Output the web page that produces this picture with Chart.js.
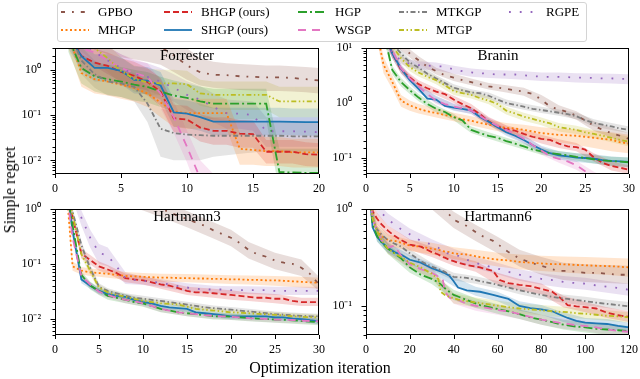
<!DOCTYPE html>
<html><head><meta charset="utf-8">
<script src="https://cdn.jsdelivr.net/npm/chart.js@4.4.0/dist/chart.umd.min.js"></script>
<style>
body{margin:0;width:640px;height:379px;overflow:hidden;background:#fff;font-family:'Liberation Serif','Times New Roman',serif;position:relative;color:#000}
canvas.p{position:absolute}
.t{position:absolute;font-size:15px;transform:translate(-50%,-50%);white-space:nowrap;z-index:3}
.lab{position:absolute;font-size:16px;white-space:nowrap;transform:translate(-50%,-50%)}
#legend{position:absolute;left:57px;top:2px;width:528px;height:38px;border:1px solid #d4d4d4;border-radius:3px;background:rgba(255,255,255,0.85);z-index:5}
.li{position:absolute;font-size:13px;white-space:nowrap;transform:translateY(-50%)}
.ls{position:absolute}
</style></head><body>
<canvas class="p" id="c1" width="325" height="165" style="left:5px;top:35px"></canvas>
<canvas class="p" id="c2" width="324" height="165" style="left:316px;top:35px"></canvas>
<canvas class="p" id="c3" width="325" height="165" style="left:5px;top:196px"></canvas>
<canvas class="p" id="c4" width="324" height="165" style="left:316px;top:196px"></canvas>
<div class="t" style="left:187px;top:55px">Forrester</div>
<div class="t" style="left:498px;top:55px">Branin</div>
<div class="t" style="left:187px;top:216px">Hartmann3</div>
<div class="t" style="left:498px;top:216px">Hartmann6</div>
<div class="lab" style="left:10px;top:190px;transform:translate(-50%,-50%) rotate(-90deg)">Simple regret</div>
<div class="lab" style="left:320px;top:368px">Optimization iteration</div>
<div id="legend"></div>
<script>
// ---------------- series meta ----------------
const seriesNames = ['GPBO','MHGP','BHGP (ours)','SHGP (ours)','HGP','WSGP','MTKGP','MTGP','RGPE'];
const seriesColors = ['#8c564b','#ff7f0e','#d62728','#1f77b4','#2ca02c','#e377c2','#7f7f7f','#bcbd22','#9467bd'];
const seriesDash = [[4,7,1.8,7],[2,2.5],[6,3],[],[9,3,2,3],[8,6],[5,2.5,1.5,2.5],[5,2.5,1.5,2.5,1.5,2.5],[1.8,9]];

// ---------------- Forrester ----------------
const forX = [1,2,3,4,5,6,7,8,9,10,11,12,13,14,15,16,17,18,19,20];
const forGPBO = [10,8,6,5,4.5,4,3.5,3.2,2.1,1.25,0.88,0.78,0.76,0.72,0.7,0.68,0.68,0.66,0.62,0.58];
const forGPBOlo = [4,3.5,2.8,2.2,1.9,1.7,1.5,1.3,0.9,0.6,0.45,0.4,0.38,0.36,0.35,0.34,0.34,0.33,0.32,0.3];
const forGPBOhi = [20,16,12,10,9,8,7,6,4.5,3,1.8,1.5,1.4,1.35,1.3,1.25,1.25,1.2,1.15,1.1];
const forMHGP = [6,0.85,0.62,0.55,0.47,0.4,0.3,0.19,0.12,0.11,0.11,0.11,0.11,0.018,0.017,0.016,0.016,0.015,0.015,0.015];
const forMHGPlo = [3,0.42,0.3,0.27,0.23,0.2,0.15,0.09,0.055,0.05,0.05,0.05,0.05,0.008,0.008,0.0075,0.0075,0.007,0.007,0.007];
const forMHGPhi = [12,1.7,1.25,1.1,0.95,0.8,0.6,0.4,0.25,0.23,0.23,0.23,0.23,0.04,0.036,0.033,0.033,0.03,0.03,0.03];
const forBHGP = [8,2.0,1.45,1.22,0.9,0.74,0.54,0.33,0.085,0.08,0.053,0.045,0.045,0.039,0.038,0.0155,0.0155,0.0155,0.0137,0.0133];
const forBHGPlo = [4,1.0,0.72,0.6,0.45,0.37,0.27,0.16,0.042,0.04,0.026,0.022,0.022,0.019,0.019,0.0085,0.0085,0.0085,0.0075,0.0072];
const forBHGPhi = [16,4,2.9,2.4,1.8,1.5,1.1,0.66,0.17,0.16,0.105,0.09,0.09,0.078,0.076,0.028,0.028,0.028,0.025,0.024];
const forSHGP = [6,2.0,1.1,1.1,0.95,0.6,0.58,0.45,0.115,0.108,0.09,0.072,0.072,0.072,0.072,0.072,0.072,0.071,0.07,0.07];
const forSHGPlo = [3,1.0,0.55,0.55,0.48,0.3,0.29,0.22,0.055,0.052,0.045,0.036,0.036,0.036,0.036,0.036,0.036,0.036,0.035,0.035];
const forSHGPhi = [12,4,2.2,2.2,1.9,1.2,1.15,0.9,0.23,0.21,0.18,0.145,0.145,0.145,0.145,0.145,0.145,0.14,0.14,0.14];
const forHGP = [5,1.1,0.72,0.62,0.55,0.47,0.42,0.33,0.27,0.24,0.2,0.18,0.18,0.18,0.18,0.18,0.0055,0.0054,0.0053,0.0053];
const forHGPlo = [2.5,0.5,0.33,0.28,0.25,0.21,0.19,0.15,0.12,0.11,0.09,0.08,0.08,0.08,0.08,0.08,0.002,0.002,0.002,0.002];
const forHGPhi = [10,2.2,1.5,1.3,1.15,1.0,0.9,0.7,0.58,0.5,0.42,0.38,0.38,0.38,0.38,0.38,0.018,0.018,0.018,0.018];
const forWSGP = [8,3,2.4,1.6,1.1,0.85,0.7,0.3,0.09,0.02,0.004,0.002,0.002,0.002,0.002,0.002,0.002,0.002,0.002,0.002];
const forWSGPlo = [4,1.5,1.2,0.8,0.55,0.42,0.35,0.14,0.04,0.009,0.0015,0.0008,0.0008,0.0008,0.0008,0.0008,0.0008,0.0008,0.0008,0.0008];
const forWSGPhi = [16,6,4.8,3.2,2.2,1.7,1.4,0.6,0.2,0.045,0.01,0.005,0.004,0.004,0.004,0.004,0.004,0.004,0.004,0.004];
const forMTKGP = [8,1.6,0.8,0.55,0.5,0.42,0.18,0.05,0.04,0.037,0.036,0.035,0.035,0.035,0.035,0.035,0.035,0.034,0.034,0.034];
const forMTKGPlo = [4,0.8,0.4,0.27,0.25,0.2,0.07,0.012,0.01,0.01,0.01,0.012,0.013,0.014,0.015,0.016,0.016,0.016,0.016,0.016];
const forMTKGPhi = [16,3.2,1.6,1.1,1.0,0.85,0.4,0.14,0.12,0.1,0.095,0.085,0.08,0.078,0.075,0.072,0.072,0.07,0.07,0.07];
const forMTGP = [10,5,3,1.8,0.95,0.63,0.53,0.5,0.5,0.48,0.3,0.28,0.28,0.28,0.28,0.28,0.2,0.2,0.2,0.2];
const forMTGPlo = [5,2.5,1.5,0.9,0.5,0.33,0.28,0.27,0.27,0.26,0.16,0.14,0.13,0.13,0.13,0.13,0.09,0.09,0.09,0.09];
const forMTGPhi = [20,10,6,3.6,1.9,1.25,1.05,1.0,1.0,0.95,0.6,0.55,0.55,0.55,0.55,0.55,0.42,0.42,0.42,0.42];
const forRGPE = [10,4,2.5,1.6,1.1,0.8,0.7,0.55,0.4,0.28,0.22,0.15,0.11,0.107,0.1,0.044,0.044,0.044,0.043,0.042];
const forRGPElo = [5,2,1.2,0.8,0.55,0.4,0.35,0.27,0.2,0.13,0.1,0.07,0.05,0.05,0.045,0.02,0.02,0.02,0.02,0.02];
const forRGPEhi = [20,8,5,3.2,2.2,1.6,1.4,1.1,0.8,0.56,0.44,0.3,0.22,0.21,0.2,0.09,0.09,0.09,0.09,0.09];

// ---------------- Branin ----------------
const braX = [1,2,3,4,5,6,7,8,9,10,11,12,13,14,15,16,17,18,19,20,21,22,23,24,25,26,27,28,29,30];
const braBX = [1,2,3,4,5,6,8,10,12,14,16,18,20,22,24,26,28,30];
const braGPBO = [40,25,15,11,8,6,4.6,3.8,3.2,2.9,2.6,2.4,2.2,2.0,1.9,1.8,1.7,1.6,1.45,1.15,0.85,0.76,0.68,0.58,0.48,0.38,0.32,0.28,0.25,0.22];
const braGPBOlo = [33,21,12.5,9.2,6.7,5.1,3.3,2.5,2.1,1.75,1.55,1.35,0.95,0.64,0.49,0.31,0.23,0.17];
const braGPBOhi = [48,30,18,13,9.6,7.1,4.4,3.4,2.8,2.3,2.1,1.9,1.4,0.9,0.7,0.46,0.35,0.28];
const braMHGP = [30,5,2.4,1.1,0.9,0.78,0.7,0.65,0.6,0.55,0.5,0.47,0.43,0.4,0.37,0.35,0.34,0.32,0.3,0.28,0.27,0.26,0.255,0.25,0.24,0.23,0.22,0.21,0.19,0.18];
const braMHGPlo = [22,3.5,1.8,0.85,0.72,0.64,0.54,0.46,0.39,0.33,0.28,0.25,0.21,0.19,0.17,0.15,0.13,0.12];
const braMHGPhi = [40,7,3.2,1.4,1.1,0.95,0.8,0.66,0.57,0.49,0.43,0.4,0.36,0.34,0.33,0.31,0.29,0.26];
const braBHGP = [40,20,8,4.0,2.9,2.2,1.85,1.6,1.45,1.15,0.95,0.8,0.62,0.46,0.37,0.33,0.31,0.27,0.24,0.22,0.21,0.18,0.16,0.155,0.14,0.1,0.08,0.07,0.065,0.06];
const braBHGPlo = [32,16,6.5,3.4,2.5,1.9,1.4,1.0,0.68,0.39,0.28,0.23,0.18,0.15,0.13,0.085,0.058,0.05];
const braBHGPhi = [50,25,10,4.7,3.4,2.6,1.85,1.35,0.95,0.55,0.39,0.32,0.26,0.215,0.185,0.12,0.085,0.072];
const braSHGP = [40,20,8,4.2,2.6,1.8,1.2,1.15,0.88,0.82,0.78,0.72,0.55,0.45,0.36,0.29,0.25,0.21,0.17,0.14,0.12,0.11,0.105,0.1,0.098,0.095,0.09,0.087,0.085,0.083];
const braSHGPlo = [32,16,6.5,3.5,2.2,1.55,1.0,0.72,0.63,0.39,0.25,0.18,0.12,0.092,0.083,0.078,0.07,0.066];
const braSHGPhi = [50,25,10,5,3.1,2.1,1.35,0.95,0.83,0.52,0.34,0.25,0.165,0.13,0.12,0.115,0.105,0.1];
const braHGP = [30,20,4,2.4,1.7,1.25,0.95,0.78,0.68,0.55,0.48,0.32,0.28,0.25,0.23,0.2,0.18,0.16,0.14,0.13,0.12,0.115,0.11,0.103,0.098,0.093,0.089,0.086,0.084,0.082];
const braHGPlo = [24,16,3.3,2.0,1.45,1.07,0.67,0.48,0.28,0.22,0.175,0.14,0.113,0.1,0.088,0.078,0.071,0.067];
const braHGPhi = [38,25,4.8,2.85,2.0,1.45,0.9,0.63,0.37,0.29,0.23,0.185,0.15,0.132,0.12,0.11,0.103,0.1];
const braWSGP = [40,22,9,4.3,2.8,2.0,1.45,1.1,0.95,0.86,0.8,0.72,0.58,0.46,0.38,0.32,0.27,0.22,0.17,0.135,0.105,0.095,0.085,0.072,0.056,0.045,0.038,0.032,0.028,0.025];
const braWSGPlo = [32,18,7.3,3.6,2.4,1.7,0.94,0.74,0.62,0.39,0.27,0.185,0.113,0.08,0.06,0.037,0.026,0.02];
const braWSGPhi = [50,27,11,5.1,3.3,2.35,1.3,1.0,0.84,0.54,0.38,0.26,0.16,0.113,0.087,0.055,0.039,0.031];
const braMTKGP = [50,30,12,8,5.5,4.4,3.4,2.8,2.3,1.9,1.7,1.55,1.5,1.35,1.15,1.0,0.92,0.85,0.78,0.74,0.7,0.66,0.62,0.57,0.48,0.43,0.4,0.37,0.34,0.32];
const braMTKGPlo = [42,25,10,6.8,4.7,3.8,2.45,1.65,1.35,1.18,0.88,0.75,0.65,0.58,0.5,0.37,0.32,0.28];
const braMTKGPhi = [60,36,14,9.4,6.4,5.1,3.2,2.2,1.78,1.55,1.15,0.97,0.85,0.76,0.66,0.5,0.43,0.37];
const braMTGP = [50,25,11,6.5,4.5,3.6,3.0,2.6,2.1,1.65,1.5,1.4,1.22,1.1,0.95,0.72,0.64,0.56,0.51,0.46,0.42,0.36,0.34,0.32,0.29,0.27,0.25,0.23,0.21,0.195];
const braMTGPlo = [42,21,9.3,5.5,3.8,3.05,2.2,1.4,1.2,0.94,0.61,0.47,0.39,0.3,0.27,0.225,0.19,0.16];
const braMTGPhi = [60,30,13,7.7,5.3,4.25,3.05,1.95,1.65,1.3,0.85,0.66,0.54,0.43,0.38,0.32,0.28,0.24];
const braRGPE = [30,15,8,6,5.2,4.9,4.8,4.7,4.6,4.1,3.8,3.6,3.5,3.4,3.3,3.3,3.3,3.2,3.1,3.0,3.0,3.0,2.95,2.9,2.9,2.85,2.8,2.8,2.75,2.75];
const braRGPElo = [25,12.5,6.7,5.1,4.4,4.1,3.9,3.4,3.0,2.85,2.75,2.65,2.5,2.45,2.35,2.3,2.25,2.2];
const braRGPEhi = [36,18,9.6,7.1,6.2,5.8,5.5,4.8,4.25,4.0,3.9,3.8,3.6,3.6,3.5,3.45,3.4,3.35];

// ---------------- Hartmann3 ----------------
const h3X = [1,2,3,4,5,6,7,8,9,10,11,12,13,14,15,16,17,18,19,20,21,22,23,24,25,26,27,28,29,30];
const h3BX = [1,2,3,4,5,6,8,10,12,15,18,20,22,25,28,30];
const h3GPBO = [5,3.5,3,2.6,2.3,2.1,1.9,1.7,1.5,1.35,1.2,1.03,0.88,0.76,0.66,0.57,0.5,0.41,0.35,0.3,0.24,0.18,0.15,0.135,0.115,0.105,0.1,0.085,0.065,0.042];
const h3GPBOlo = [3.5,2.5,2.1,1.8,1.6,1.5,1.2,0.95,0.72,0.47,0.29,0.21,0.125,0.08,0.06,0.032];
const h3GPBOhi = [7,5,4.2,3.6,3.2,3,2.4,1.9,1.45,0.93,0.58,0.42,0.25,0.16,0.12,0.058];
const h3MHGP = [10,0.09,0.075,0.07,0.068,0.066,0.063,0.06,0.059,0.058,0.057,0.056,0.056,0.055,0.055,0.054,0.054,0.053,0.053,0.052,0.052,0.051,0.051,0.05,0.05,0.049,0.048,0.047,0.046,0.045];
const h3MHGPlo = [7,0.075,0.064,0.06,0.058,0.056,0.051,0.049,0.047,0.046,0.044,0.043,0.042,0.04,0.037,0.035];
const h3MHGPhi = [14,0.11,0.088,0.082,0.08,0.078,0.071,0.068,0.066,0.065,0.063,0.062,0.061,0.06,0.058,0.056];
const h3BHGP = [8,0.7,0.155,0.118,0.09,0.079,0.068,0.055,0.052,0.05,0.046,0.042,0.04,0.036,0.032,0.03,0.03,0.029,0.028,0.027,0.026,0.025,0.024,0.024,0.023,0.023,0.021,0.02,0.02,0.02];
const h3BHGPlo = [6,0.55,0.125,0.097,0.075,0.066,0.046,0.042,0.035,0.027,0.024,0.022,0.021,0.019,0.017,0.017];
const h3BHGPhi = [10,0.9,0.19,0.145,0.11,0.095,0.066,0.06,0.05,0.038,0.035,0.033,0.03,0.028,0.024,0.024];
const h3SHGP = [6,0.4,0.052,0.04,0.032,0.028,0.026,0.025,0.022,0.02,0.019,0.017,0.016,0.0155,0.015,0.013,0.0125,0.012,0.0115,0.011,0.011,0.011,0.011,0.011,0.0105,0.0105,0.01,0.0098,0.0093,0.0089];
const h3SHGPlo = [5,0.32,0.044,0.035,0.028,0.025,0.022,0.0177,0.015,0.0133,0.0106,0.0097,0.0097,0.0093,0.0087,0.0079];
const h3SHGPhi = [7.2,0.5,0.06,0.046,0.036,0.032,0.028,0.0225,0.019,0.017,0.0136,0.0125,0.0125,0.0119,0.011,0.01];
const h3HGP = [5,0.5,0.063,0.04,0.032,0.026,0.024,0.022,0.02,0.019,0.017,0.015,0.014,0.013,0.0125,0.012,0.0115,0.011,0.011,0.0108,0.0105,0.0102,0.01,0.0098,0.0096,0.0095,0.0093,0.009,0.0088,0.0086];
const h3HGPlo = [4.2,0.4,0.054,0.034,0.027,0.022,0.019,0.0165,0.013,0.011,0.0096,0.0094,0.0089,0.0084,0.0079,0.0075];
const h3HGPhi = [6,0.62,0.073,0.047,0.037,0.03,0.025,0.022,0.0173,0.0143,0.0126,0.0124,0.0117,0.011,0.0103,0.0098];
const h3WSGP = [5,0.3,0.06,0.042,0.031,0.027,0.024,0.022,0.021,0.019,0.017,0.015,0.014,0.013,0.0125,0.012,0.0115,0.0112,0.011,0.0108,0.0105,0.0102,0.01,0.0098,0.0096,0.0095,0.0094,0.0092,0.009,0.0089];
const h3WSGPlo = [4.2,0.25,0.052,0.037,0.027,0.024,0.019,0.0167,0.0132,0.011,0.0099,0.0095,0.009,0.0085,0.0081,0.0078];
const h3WSGPhi = [6,0.36,0.068,0.047,0.035,0.03,0.025,0.0213,0.0168,0.014,0.0125,0.0121,0.0114,0.0107,0.0103,0.01];
const h3MTKGP = [8,0.9,0.22,0.083,0.038,0.032,0.029,0.026,0.024,0.023,0.022,0.021,0.02,0.019,0.018,0.017,0.016,0.0155,0.015,0.0145,0.014,0.0135,0.013,0.0125,0.012,0.0118,0.0114,0.0112,0.011,0.0109];
const h3MTKGPlo = [6.8,0.75,0.19,0.071,0.033,0.028,0.023,0.0205,0.0187,0.016,0.0138,0.0129,0.012,0.0107,0.01,0.0097];
const h3MTKGPhi = [9.4,1.05,0.26,0.097,0.044,0.036,0.029,0.026,0.0236,0.0202,0.0174,0.0163,0.0151,0.0135,0.0126,0.0122];
const h3MTGP = [8,0.8,0.15,0.075,0.037,0.03,0.027,0.025,0.023,0.021,0.02,0.019,0.0185,0.018,0.0165,0.015,0.0145,0.014,0.0135,0.013,0.0128,0.0125,0.0122,0.012,0.0117,0.0114,0.011,0.0108,0.0106,0.0105];
const h3MTGPlo = [6.8,0.67,0.13,0.064,0.032,0.026,0.022,0.0185,0.0168,0.0146,0.0124,0.0115,0.011,0.0103,0.0095,0.0092];
const h3MTGPhi = [9.4,0.95,0.17,0.086,0.042,0.034,0.028,0.0237,0.0214,0.0186,0.0158,0.0147,0.0141,0.0132,0.0122,0.0119];
const h3RGPE = [10,2,0.7,0.3,0.16,0.14,0.09,0.055,0.051,0.049,0.047,0.045,0.042,0.039,0.037,0.035,0.034,0.034,0.034,0.033,0.033,0.033,0.033,0.033,0.032,0.032,0.032,0.032,0.032,0.032];
const h3RGPElo = [8,1.5,0.5,0.2,0.1,0.09,0.043,0.041,0.038,0.031,0.029,0.028,0.028,0.027,0.027,0.027];
const h3RGPEhi = [12,2.6,0.95,0.42,0.23,0.2,0.07,0.058,0.053,0.044,0.04,0.039,0.039,0.038,0.038,0.038];

// ---------------- Hartmann6 ----------------
const h6X = [1,2,3,5,7,10,13,16,20,25,30,33,34,35,36,38,40,42,46,52,58,61,65,70,75,80,85,88,92,96,100,105,110,115,120];
const h6BX = [1,2,5,10,20,30,40,50,60,70,80,90,100,110,120];
const h6GPBO = [5,4.5,4,3.6,3.2,2.8,2.4,2.1,1.8,1.5,1.25,1.1,1.06,1.02,0.97,0.88,0.78,0.74,0.67,0.54,0.47,0.42,0.36,0.31,0.28,0.26,0.24,0.23,0.23,0.225,0.22,0.22,0.215,0.21,0.21];
const h6GPBOlo = [4,3.6,2.9,2.2,1.45,1.0,0.64,0.47,0.35,0.255,0.21,0.185,0.177,0.172,0.168];
const h6GPBOhi = [6,5.5,4.4,3.4,2.2,1.5,0.94,0.69,0.52,0.38,0.32,0.28,0.27,0.265,0.26];
const h6MHGP = [3,1.2,0.75,0.62,0.53,0.48,0.47,0.45,0.42,0.41,0.39,0.38,0.375,0.37,0.365,0.36,0.35,0.345,0.34,0.32,0.305,0.3,0.295,0.285,0.28,0.275,0.27,0.27,0.268,0.265,0.263,0.26,0.258,0.255,0.25];
const h6MHGPlo = [2.5,1.0,0.54,0.42,0.37,0.34,0.305,0.28,0.255,0.24,0.23,0.222,0.215,0.21,0.2];
const h6MHGPhi = [3.6,1.45,0.71,0.55,0.48,0.45,0.405,0.38,0.355,0.34,0.33,0.325,0.32,0.315,0.31];
const h6BHGP = [3,1.5,0.95,0.8,0.7,0.6,0.53,0.48,0.43,0.41,0.36,0.34,0.33,0.32,0.315,0.3,0.29,0.28,0.265,0.25,0.23,0.185,0.172,0.165,0.16,0.15,0.14,0.125,0.102,0.099,0.097,0.094,0.085,0.08,0.077];
const h6BHGPlo = [2.6,1.3,0.7,0.53,0.38,0.32,0.26,0.225,0.165,0.145,0.132,0.097,0.086,0.075,0.068];
const h6BHGPhi = [3.5,1.75,0.92,0.68,0.49,0.41,0.33,0.29,0.22,0.19,0.17,0.127,0.11,0.097,0.088];
const h6SHGP = [2,1.2,0.65,0.52,0.46,0.4,0.36,0.34,0.3,0.28,0.245,0.232,0.228,0.222,0.218,0.205,0.18,0.155,0.145,0.14,0.13,0.125,0.118,0.1,0.095,0.092,0.088,0.082,0.075,0.07,0.067,0.066,0.065,0.062,0.06];
const h6SHGPlo = [1.75,1.05,0.46,0.355,0.27,0.22,0.16,0.127,0.112,0.089,0.081,0.068,0.06,0.058,0.053];
const h6SHGPhi = [2.3,1.4,0.59,0.45,0.335,0.275,0.2,0.158,0.14,0.112,0.102,0.086,0.075,0.073,0.067];
const h6HGP = [2,1.2,0.7,0.53,0.46,0.39,0.35,0.31,0.25,0.21,0.19,0.175,0.168,0.16,0.152,0.14,0.13,0.125,0.115,0.102,0.095,0.092,0.088,0.082,0.076,0.072,0.068,0.065,0.063,0.061,0.06,0.058,0.057,0.056,0.055];
const h6HGPlo = [1.75,1.05,0.47,0.345,0.22,0.168,0.115,0.095,0.083,0.073,0.064,0.057,0.053,0.05,0.048];
const h6HGPhi = [2.3,1.4,0.6,0.44,0.28,0.215,0.147,0.12,0.104,0.092,0.081,0.072,0.068,0.065,0.062];
const h6WSGP = [2,1.3,0.8,0.6,0.48,0.4,0.42,0.33,0.27,0.24,0.22,0.2,0.195,0.19,0.14,0.122,0.118,0.115,0.105,0.098,0.093,0.09,0.088,0.082,0.077,0.072,0.069,0.067,0.065,0.063,0.062,0.06,0.057,0.055,0.054];
const h6WSGPlo = [1.75,1.1,0.52,0.35,0.24,0.195,0.105,0.089,0.081,0.073,0.064,0.058,0.055,0.05,0.047];
const h6WSGPhi = [2.3,1.5,0.68,0.46,0.305,0.25,0.133,0.113,0.103,0.092,0.081,0.074,0.07,0.064,0.061];
const h6MTKGP = [2.5,1.3,0.8,0.62,0.55,0.48,0.44,0.41,0.35,0.29,0.255,0.24,0.235,0.23,0.225,0.21,0.2,0.198,0.195,0.18,0.17,0.163,0.155,0.145,0.137,0.13,0.124,0.121,0.118,0.115,0.112,0.108,0.105,0.102,0.099];
const h6MTKGPlo = [2.2,1.15,0.56,0.435,0.32,0.233,0.183,0.169,0.151,0.132,0.118,0.108,0.101,0.095,0.089];
const h6MTKGPhi = [2.85,1.45,0.68,0.53,0.385,0.28,0.22,0.203,0.181,0.16,0.143,0.131,0.124,0.116,0.11];
const h6MTGP = [2.5,1.3,0.8,0.6,0.48,0.39,0.35,0.32,0.28,0.25,0.215,0.19,0.14,0.135,0.13,0.124,0.12,0.116,0.112,0.107,0.102,0.1,0.097,0.094,0.092,0.09,0.088,0.087,0.086,0.084,0.083,0.081,0.079,0.078,0.076];
const h6MTGPlo = [2.2,1.15,0.53,0.345,0.25,0.19,0.106,0.096,0.09,0.083,0.08,0.076,0.073,0.07,0.067];
const h6MTGPhi = [2.85,1.45,0.68,0.44,0.315,0.245,0.135,0.122,0.114,0.106,0.102,0.098,0.094,0.09,0.086];
const h6RGPE = [5,3,2,1.05,0.92,0.78,0.7,0.62,0.55,0.47,0.43,0.4,0.38,0.36,0.355,0.345,0.34,0.33,0.3,0.27,0.25,0.24,0.225,0.21,0.2,0.19,0.185,0.18,0.175,0.172,0.17,0.163,0.158,0.153,0.147];
const h6RGPElo = [4,2.5,0.9,0.68,0.48,0.375,0.295,0.245,0.213,0.182,0.165,0.154,0.147,0.137,0.127];
const h6RGPEhi = [6,3.5,1.2,0.9,0.63,0.49,0.39,0.32,0.28,0.24,0.218,0.204,0.195,0.181,0.169];

// ---------------- helpers ----------------
const SUP = {'0':'\u2070','1':'\u00B9','2':'\u00B2','3':'\u00B3','4':'\u2074','5':'\u2075','6':'\u2076','7':'\u2077','8':'\u2078','9':'\u2079','-':'\u207B'};
function isDecade(v){ const l = Math.log10(v); return Math.abs(l - Math.round(l)) < 1e-6; }
function logLabel(v){ if (!isDecade(v)) return ''; const r = Math.round(Math.log10(v)); return '10' + String(r).split('').map(c => SUP[c]).join(''); }
function pts(xs, ys){ return xs.map((x, i) => ({x: x, y: ys[i]})); }
function rgba(hex, a){ const n = parseInt(hex.slice(1), 16); return 'rgba(' + (n >> 16 & 255) + ',' + (n >> 8 & 255) + ',' + (n & 255) + ',' + a + ')'; }

const framePlugin = {
  id: 'frame',
  afterDraw(chart) {
    const ctx = chart.ctx, a = chart.chartArea, xs = chart.scales.x, ys = chart.scales.y;
    ctx.save();
    ctx.strokeStyle = '#000'; ctx.lineWidth = 1;
    const L = Math.round(a.left), T = Math.round(a.top), R = Math.round(a.right), B = Math.round(a.bottom);
    ctx.strokeRect(L + 0.5, T + 0.5, R - L - 1, B - T - 1);
    ctx.beginPath();
    xs.ticks.forEach(t => { const p = Math.round(xs.getPixelForValue(t.value)) + 0.5; ctx.moveTo(p, B); ctx.lineTo(p, B + 4); });
    ys.ticks.forEach(t => { const p = Math.round(ys.getPixelForValue(t.value)) + 0.5; const len = isDecade(t.value) ? 4.5 : 2.5; ctx.moveTo(L, p); ctx.lineTo(L - len, p); });
    ctx.stroke();
    ctx.restore();
  }
};

function buildPanel(id, xs, means, bxs, los, his, xMax, xStep, yMin, yMax) {
  const datasets = [];
  los.forEach((lo, k) => {
    datasets.push({data: pts(bxs, lo), borderColor: 'transparent', borderWidth: 0, pointRadius: 0, fill: false, order: 100});
    datasets.push({data: pts(bxs, his[k]), borderColor: 'transparent', borderWidth: 0, pointRadius: 0, fill: '-1', backgroundColor: rgba(seriesColors[k], 0.2), order: 100});
  });
  means.forEach((m, k) => {
    datasets.push({data: pts(xs, m), borderColor: seriesColors[k], borderWidth: 1.8, borderDash: seriesDash[k], pointRadius: 0, fill: false, order: 20 - k, clip: 0});
  });
  const font = {family: "'Liberation Serif','Times New Roman',serif", size: 12};
  new Chart(document.getElementById(id), {
    type: 'line',
    data: {datasets: datasets},
    plugins: [framePlugin],
    options: {
      responsive: false, animation: false, events: [],
      layout: {padding: {left: 0, right: 11, top: 10, bottom: 0}},
      plugins: {legend: {display: false}, tooltip: {enabled: false}, filler: {drawTime: 'beforeDatasetsDraw'}},
      scales: {
        x: {type: 'linear', min: 0, max: xMax,
            ticks: {stepSize: xStep, font: font, color: '#000', padding: 0, maxRotation: 0, autoSkip: false},
            grid: {display: false}, border: {display: false},
            afterFit: s => { s.height = 26; }},
        y: {type: 'logarithmic', min: yMin, max: yMax,
            ticks: {callback: v => logLabel(v), font: font, color: '#000', padding: 6, autoSkip: false},
            grid: {display: false}, border: {display: false},
            afterFit: s => { s.width = 50; }}
      }
    }
  });
}

buildPanel('c1', forX,
  [forGPBO, forMHGP, forBHGP, forSHGP, forHGP, forWSGP, forMTKGP, forMTGP, forRGPE], forX,
  [forGPBOlo, forMHGPlo, forBHGPlo, forSHGPlo, forHGPlo, forWSGPlo, forMTKGPlo, forMTGPlo, forRGPElo],
  [forGPBOhi, forMHGPhi, forBHGPhi, forSHGPhi, forHGPhi, forWSGPhi, forMTKGPhi, forMTGPhi, forRGPEhi],
  20, 5, 0.005, 3);
buildPanel('c2', braX,
  [braGPBO, braMHGP, braBHGP, braSHGP, braHGP, braWSGP, braMTKGP, braMTGP, braRGPE], braBX,
  [braGPBOlo, braMHGPlo, braBHGPlo, braSHGPlo, braHGPlo, braWSGPlo, braMTKGPlo, braMTGPlo, braRGPElo],
  [braGPBOhi, braMHGPhi, braBHGPhi, braSHGPhi, braHGPhi, braWSGPhi, braMTKGPhi, braMTGPhi, braRGPEhi],
  30, 5, 0.05, 10);
buildPanel('c3', h3X,
  [h3GPBO, h3MHGP, h3BHGP, h3SHGP, h3HGP, h3WSGP, h3MTKGP, h3MTGP, h3RGPE], h3BX,
  [h3GPBOlo, h3MHGPlo, h3BHGPlo, h3SHGPlo, h3HGPlo, h3WSGPlo, h3MTKGPlo, h3MTGPlo, h3RGPElo],
  [h3GPBOhi, h3MHGPhi, h3BHGPhi, h3SHGPhi, h3HGPhi, h3WSGPhi, h3MTKGPhi, h3MTGPhi, h3RGPEhi],
  30, 5, 0.005, 1);
buildPanel('c4', h6X,
  [h6GPBO, h6MHGP, h6BHGP, h6SHGP, h6HGP, h6WSGP, h6MTKGP, h6MTGP, h6RGPE], h6BX,
  [h6GPBOlo, h6MHGPlo, h6BHGPlo, h6SHGPlo, h6HGPlo, h6WSGPlo, h6MTKGPlo, h6MTGPlo, h6RGPElo],
  [h6GPBOhi, h6MHGPhi, h6BHGPhi, h6SHGPhi, h6HGPhi, h6WSGPhi, h6MTKGPhi, h6MTGPhi, h6RGPEhi],
  120, 20, 0.05, 1);

// ---------------- legend ----------------
const legendTextX = [98, 201, 335, 436, 546];
const legendRowY = [12, 30];
const leg = document.getElementById('legend');
seriesNames.forEach((name, k) => {
  const col = Math.floor(k / 2), row = k % 2;
  const tx = legendTextX[col] - 58, ty = legendRowY[row] - 3;
  const c = document.createElement('canvas');
  c.className = 'ls'; c.width = 28; c.height = 10;
  c.style.left = (tx - 37) + 'px'; c.style.top = (ty - 5) + 'px';
  leg.appendChild(c);
  const g = c.getContext('2d');
  g.strokeStyle = seriesColors[k]; g.lineWidth = 1.8; g.setLineDash(seriesDash[k]);
  g.beginPath(); g.moveTo(0, 5); g.lineTo(28, 5); g.stroke();
  const d = document.createElement('div');
  d.className = 'li'; d.textContent = name;
  d.style.left = tx + 'px'; d.style.top = ty + 'px';
  leg.appendChild(d);
});
</script>
</body></html>
